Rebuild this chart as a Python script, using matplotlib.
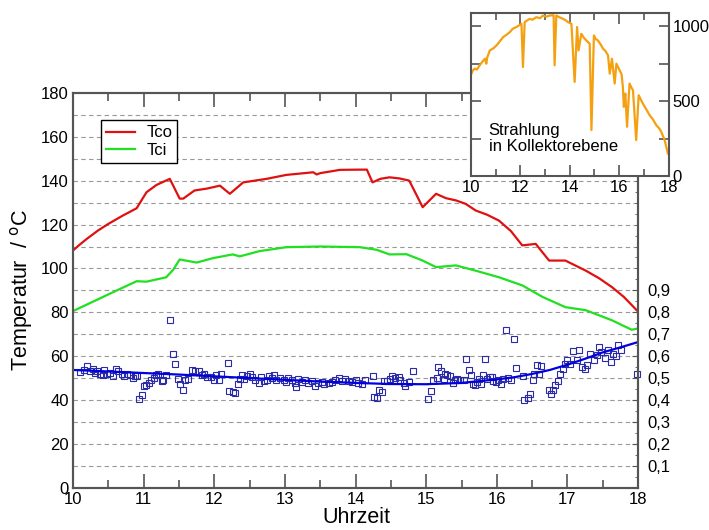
import numpy as np
import matplotlib
matplotlib.use('Agg')
import matplotlib.pyplot as plt
from matplotlib.ticker import MultipleLocator

plt.rcParams['font.family'] = ['Liberation Sans', 'DejaVu Sans']

# Kollektoraustrittstemperatur Tco
tco_t = [10.0, 10.1, 10.2, 10.35, 10.5, 10.7, 10.9, 11.04, 11.18, 11.37, 11.51, 11.56, 11.72, 11.9,
         12.08, 12.22, 12.41, 12.74, 13.02, 13.4, 13.45, 13.5, 13.78, 14.06, 14.16, 14.24,
         14.35, 14.48, 14.62, 14.76, 14.95, 15.14, 15.28, 15.42, 15.56, 15.7, 15.86, 16.03,
         16.2, 16.36, 16.55, 16.74, 16.97, 17.26, 17.45, 17.63, 17.8, 17.98]
tco_v = [108.2, 111.0, 113.6, 117.2, 120.3, 124.0, 127.4, 134.7, 138.0, 140.8, 131.8, 131.8, 135.5,
         136.4, 137.7, 134.0, 139.2, 140.8, 142.6, 143.8, 142.8, 143.4, 144.9, 145.0, 145.0,
         139.2, 140.8, 141.5, 141.0, 140.0, 127.9, 134.0, 132.0, 131.0, 129.4, 126.4, 124.5,
         121.8, 117.0, 110.5, 111.2, 103.6, 103.6, 99.0, 95.5, 91.5, 87.0, 81.0]

# Kollektoreintrittstemperatur Tci
tci_t = [10.0, 10.52, 10.9, 11.04, 11.32, 11.42, 11.51, 11.75, 11.98, 12.26, 12.36, 12.64,
         13.02, 13.5, 14.06, 14.3, 14.48, 14.72, 14.95, 15.14, 15.42, 15.7, 16.03, 16.36,
         16.65, 16.97, 17.26, 17.63, 17.91, 18.0]
tci_v = [80.6, 88.5, 94.2, 94.0, 96.0, 99.5, 104.1, 102.7, 104.7, 106.4, 105.5, 107.9,
         109.7, 110.0, 109.7, 108.5, 106.4, 106.5, 103.6, 100.6, 101.4, 99.0, 96.0, 92.3,
         87.0, 82.4, 81.0, 76.4, 72.1, 72.7]

# Wirkungsgrad (x100), Messpunkte
eta_t = [10.10, 10.15, 10.20, 10.24, 10.28, 10.31, 10.34, 10.38, 10.42, 10.44, 10.48, 10.52,
         10.57, 10.61, 10.64, 10.69, 10.72, 10.77, 10.81, 10.85, 10.88, 10.91, 10.94, 10.97,
         11.00, 11.03, 11.07, 11.10, 11.14, 11.18, 11.21, 11.26, 11.28, 11.32, 11.37, 11.42,
         11.45, 11.49, 11.52, 11.56, 11.59, 11.63, 11.69, 11.73, 11.78, 11.82, 11.86, 11.90,
         11.95, 12.00, 12.03, 12.07, 12.09, 12.19, 12.21, 12.26, 12.30, 12.33, 12.36, 12.39,
         12.42, 12.46, 12.50, 12.53, 12.58, 12.63, 12.66, 12.70, 12.74, 12.78, 12.81, 12.85,
         12.88, 12.93, 12.98, 13.02, 13.05, 13.10, 13.14, 13.16, 13.19, 13.24, 13.29, 13.33,
         13.38, 13.43, 13.47, 13.52, 13.56, 13.62, 13.66, 13.71, 13.76, 13.81, 13.85, 13.90,
         13.95, 14.00, 14.04, 14.09, 14.14, 14.24, 14.26, 14.31, 14.33, 14.37, 14.40, 14.44,
         14.49, 14.51, 14.56, 14.61, 14.63, 14.68, 14.70, 14.76, 14.81, 15.03, 15.07, 15.10,
         15.15, 15.17, 15.21, 15.25, 15.27, 15.30, 15.34, 15.38, 15.41, 15.44, 15.48, 15.53,
         15.57, 15.60, 15.63, 15.66, 15.69, 15.72, 15.75, 15.77, 15.80, 15.83, 15.86, 15.90,
         15.93, 15.95, 15.99, 16.02, 16.06, 16.09, 16.13, 16.16, 16.20, 16.24, 16.27, 16.37,
         16.39, 16.44, 16.47, 16.51, 16.53, 16.57, 16.60, 16.63, 16.74, 16.77, 16.80, 16.83,
         16.86, 16.90, 16.94, 16.97, 17.00, 17.04, 17.08, 17.13, 17.16, 17.20, 17.25, 17.27,
         17.32, 17.37, 17.42, 17.44, 17.47, 17.53, 17.57, 17.61, 17.65, 17.69, 17.72, 17.76,
         17.98]
eta_v = [52.9, 53.6, 55.8, 53.2, 54.2, 52.6, 53.2, 51.8, 51.4, 53.9, 51.8, 52.4,
         51.2, 54.4, 53.2, 51.8, 50.9, 52.1, 51.4, 50.3, 50.9, 51.2, 40.6, 42.6,
         46.4, 46.8, 47.9, 49.4, 50.3, 51.4, 51.8, 48.6, 49.1, 51.4, 76.4, 60.9,
         56.7, 49.8, 47.3, 44.8, 49.1, 49.8, 53.9, 53.3, 53.2, 51.4, 52.1, 50.6,
         50.6, 49.4, 51.4, 49.1, 51.8, 57.1, 44.1, 43.8, 43.5, 47.3, 49.8, 51.4,
         49.8, 51.1, 51.8, 50.6, 49.1, 47.9, 50.6, 48.8, 49.4, 50.9, 50.3, 51.4,
         49.1, 50.3, 49.1, 48.3, 50.3, 49.1, 47.9, 46.1, 49.8, 48.3, 49.1, 47.9,
         48.6, 46.4, 47.9, 48.3, 47.3, 47.9, 48.3, 49.4, 50.2, 48.6, 49.7, 48.8,
         48.3, 49.1, 48.0, 47.6, 49.1, 50.9, 41.5, 41.2, 44.8, 43.8, 48.6, 48.6,
         49.8, 50.9, 50.3, 50.6, 49.1, 47.9, 46.7, 48.3, 53.2, 40.8, 44.1, 49.4,
         50.3, 55.2, 53.2, 49.8, 52.1, 51.4, 50.9, 47.9, 49.1, 49.8, 49.1, 49.1,
         58.9, 53.6, 51.4, 47.6, 47.1, 48.3, 49.8, 47.3, 51.4, 58.9, 49.8, 50.6,
         50.6, 48.8, 48.3, 49.1, 47.6, 49.8, 72.1, 50.3, 49.1, 68.0, 54.8, 50.9,
         40.3, 41.2, 43.0, 49.1, 51.8, 55.9, 52.1, 55.5, 44.5, 43.0, 44.5, 46.8,
         48.8, 52.1, 54.4, 56.7, 58.5, 56.7, 62.4, 58.2, 62.7, 55.2, 54.4, 55.9,
         61.2, 58.2, 60.5, 64.2, 62.0, 59.4, 63.0, 57.4, 61.2, 60.0, 65.0, 62.7,
         52.1]

# Ausgleichskurve Wirkungsgrad (x100)
fit_t = [10.0, 10.5, 11.0, 11.5, 12.0, 12.5, 13.0, 13.5, 14.0, 14.5, 15.0, 15.5, 16.0,
         16.25, 16.5, 16.75, 17.0, 17.25, 17.5, 17.75, 18.0]
fit_v = [53.8, 53.1, 52.4, 51.7, 50.9, 50.1, 49.3, 48.5, 47.9, 47.4, 47.3, 47.9, 49.5,
         50.5, 52.0, 53.8, 56.2, 58.9, 61.8, 64.1, 66.5]

# Strahlung in Kollektorebene (W/m2)
rad_t = [10.0, 10.08, 10.16, 10.25, 10.36, 10.45, 10.57, 10.63, 10.66, 10.77, 10.9, 11.04,
         11.15, 11.31, 11.45, 11.58, 11.7, 11.85, 12.05, 12.11, 12.18, 12.28, 12.38, 12.5,
         12.65, 12.8, 12.92, 13.05, 13.19, 13.35, 13.39, 13.46, 13.6, 13.73, 13.85, 13.93,
         14.07, 14.20, 14.30, 14.36, 14.47, 14.57, 14.67, 14.81, 14.88, 14.98, 15.06, 15.14,
         15.25, 15.35, 15.45, 15.55, 15.62, 15.71, 15.82, 15.89, 16.02, 16.1, 16.15, 16.19,
         16.25, 16.32, 16.42, 16.5, 16.56, 16.69, 16.79, 16.88, 16.96, 17.1, 17.23, 17.38,
         17.50, 17.62, 17.70, 17.84, 17.97]
rad_v = [673, 705, 718, 712, 740, 760, 784, 751, 790, 840, 852, 873,
         895, 929, 945, 962, 985, 996, 1018, 729, 1029, 1040, 1051, 1045,
         1062, 1055, 1073, 1065, 1073, 1075, 740, 1073, 1060, 1051, 1040, 1029,
         1018, 629, 996, 840, 951, 925, 907, 884, 307, 940, 915, 907,
         880, 851, 835, 807, 684, 784, 618, 751, 707, 680, 596, 462,
         551, 329, 618, 590, 573, 240, 540, 510, 484, 445, 407, 375,
         340, 318, 296, 240, 151]

right_ticks = [0.1, 0.2, 0.3, 0.4, 0.5, 0.6, 0.7, 0.8, 0.9]
right_labels = ['0,1', '0,2', '0,3', '0,4', '0,5', '0,6', '0,7', '0,8', '0,9']

spine_col = '#555555'
tick_fs = 12

fig = plt.figure(figsize=(7.09, 5.30), dpi=100)
ax = fig.add_axes([0.103, 0.079, 0.797, 0.746])

for v in range(10, 180, 10):
    ax.axhline(v, color='#999999', linestyle=(0, (4, 3)), linewidth=0.8, zorder=0)

ax.plot(tco_t, tco_v, color='#e01010', linewidth=1.6, label='Tco')
ax.plot(tci_t, tci_v, color='#20e020', linewidth=1.6, label='Tci')
ax.plot(eta_t, eta_v, linestyle='none', marker='s', markersize=4.2, markerfacecolor='none',
        markeredgecolor='#2a2aa8', markeredgewidth=0.8, clip_on=False)
ax.plot(fit_t, fit_v, color='#0000e0', linewidth=1.6)

ax.set_xlim(10, 18)
ax.set_ylim(0, 180)
ax.xaxis.set_major_locator(MultipleLocator(1))
ax.xaxis.set_minor_locator(MultipleLocator(0.5))
ax.yaxis.set_major_locator(MultipleLocator(20))
ax.yaxis.set_minor_locator(MultipleLocator(10))
ax.tick_params(axis='both', which='both', direction='in', top=True, right=False,
               color=spine_col, labelsize=tick_fs)
ax.tick_params(axis='x', which='major', length=10, width=1.2, pad=3)
ax.tick_params(axis='x', which='minor', length=6, width=1.2)
ax.tick_params(axis='y', which='major', length=0, pad=3)
ax.tick_params(axis='y', which='minor', length=0)
for s in ax.spines.values():
    s.set_color(spine_col)
    s.set_linewidth(1.5)

ax.set_ylabel('Temperatur  / $^{\\mathrm{o}}$C', fontsize=15.5, labelpad=4)
# Achsentitel unten etwas tiefer, wie im Original
fig.text(0.502, 0.003, 'Uhrzeit', fontsize=15.5, ha='center', va='bottom')

leg = ax.legend(loc='upper left', bbox_to_anchor=(0.05, 0.93), fontsize=12, fancybox=False,
                edgecolor='black', framealpha=1, handlelength=1.7, borderpad=0.3,
                labelspacing=0.15, handletextpad=0.7, borderaxespad=0)
leg.get_frame().set_linewidth(1.0)

ax2 = ax.twinx()
ax2.set_ylim(0, 1.8)
ax2.set_yticks(right_ticks)
ax2.set_yticklabels(right_labels)
ax2.yaxis.set_minor_locator(MultipleLocator(0.05))
ax2.tick_params(axis='y', which='major', direction='in', length=4, color=spine_col,
                labelsize=tick_fs, pad=7)
ax2.tick_params(axis='y', which='minor', direction='in', length=2, color=spine_col)
for s in ax2.spines.values():
    s.set_color(spine_col)
    s.set_linewidth(1.5)

# Einsatz: Strahlung
ins = fig.add_axes([0.664, 0.668, 0.279, 0.3075])
ins.set_facecolor('white')
ins.plot(rad_t, rad_v, color='#f5a010', linewidth=1.6)
ins.set_xlim(10, 18)
ins.set_ylim(0, 1090)
ins.set_xticks([10, 12, 14, 16, 18])
ins.xaxis.set_minor_locator(MultipleLocator(1))
ins.set_yticks([0, 500, 1000])
ins.yaxis.set_minor_locator(MultipleLocator(250))
ins.yaxis.tick_right()
ins.tick_params(axis='both', which='both', direction='in', top=True, left=True, right=True,
                color=spine_col, labelsize=tick_fs)
ins.tick_params(axis='x', which='major', length=8, width=1.2, pad=3)
ins.tick_params(axis='x', which='minor', length=5, width=1.2)
ins.tick_params(axis='y', which='major', length=7, width=1.2, pad=3)
ins.tick_params(axis='y', which='minor', length=7, width=1.2)
for s in ins.spines.values():
    s.set_color(spine_col)
    s.set_linewidth(1.5)
ins.text(0.09, 0.23, 'Strahlung\nin Kollektorebene', transform=ins.transAxes, fontsize=12,
         ha='left', va='center', linespacing=1.15)

fig.savefig('out.png', dpi=100)
